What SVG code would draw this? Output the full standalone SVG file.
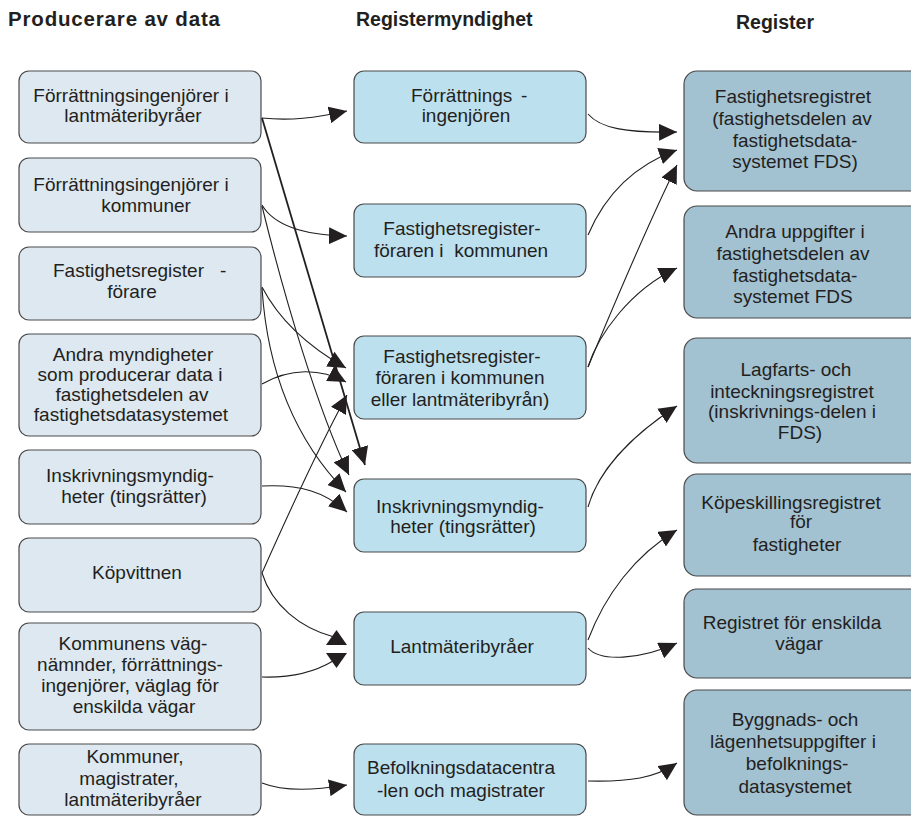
<svg xmlns="http://www.w3.org/2000/svg" width="911" height="816" viewBox="0 0 911 816">
<style>
.hdr{font-family:"Liberation Sans",Arial,sans-serif;font-weight:bold;font-size:19.5px;fill:#231f20}
.t{font-family:"Liberation Sans",Arial,sans-serif;font-size:19px;fill:#231f20;text-anchor:middle}
.ts{font-family:"Liberation Sans",Arial,sans-serif;font-size:19px;fill:#231f20}
.l{fill:#dde8f0;stroke:#4a4a4a;stroke-width:1.2}
.m{fill:#bde0ef;stroke:#4a4a4a;stroke-width:1.2}
.r{fill:#a2c1d1;stroke:#4a4a4a;stroke-width:1.2}
.c{fill:none;stroke:#231f20;stroke-width:1.1}
.ah{fill:#231f20;stroke:none}
</style>
<defs>
<marker id="arr" markerUnits="userSpaceOnUse" markerWidth="18" markerHeight="17" viewBox="0 0 18 17" refX="18" refY="8.5" orient="auto">
<path d="M0,0 L18,8.5 L0,17 z" fill="#231f20"/>
</marker>
</defs>
<rect width="911" height="816" fill="#ffffff"/>
<g id="headers">
<text class="hdr" x="8" y="26" style="font-size:20.5px" textLength="212" lengthAdjust="spacing">Producerare av data</text>
<text class="hdr" x="356" y="26">Registermyndighet</text>
<text class="hdr" x="736" y="29">Register</text>
</g>
<g id="L1"><rect class="l" x="19" y="71" width="242" height="72" rx="10"/>
<text class="t" x="131" y="102">Förrättningsingenjörer i</text>
<text class="t" x="133" y="122">lantmäteribyråer</text></g>
<g id="L2"><rect class="l" x="19" y="158" width="242" height="74" rx="10"/>
<text class="t" x="131" y="191">Förrättningsingenjörer i</text>
<text class="t" x="146" y="212">kommuner</text></g>
<g id="L3"><rect class="l" x="19" y="247" width="242" height="73" rx="10"/>
<text class="ts" x="53" y="277">Fastighetsregister</text>
<text class="ts" x="220" y="277">-</text>
<text class="t" x="132" y="298">förare</text></g>
<g id="L4"><rect class="l" x="19" y="334" width="242" height="102" rx="10"/>
<text class="t" x="133" y="361">Andra myndigheter</text>
<text class="t" x="130" y="381">som producerar data i</text>
<text class="t" x="132" y="401">fastighetsdelen av</text>
<text class="t" x="131" y="421">fastighetsdatasystemet</text></g>
<g id="L5"><rect class="l" x="19" y="450" width="242" height="74" rx="10"/>
<text class="t" x="130" y="482">Inskrivningsmyndig-</text>
<text class="t" x="134" y="503">heter (tingsrätter)</text></g>
<g id="L6"><rect class="l" x="19" y="538" width="242" height="74" rx="10"/>
<text class="t" x="137" y="579">Köpvittnen</text></g>
<g id="L7"><rect class="l" x="19" y="623" width="242" height="107" rx="10"/>
<text class="t" x="133" y="650">Kommunens väg-</text>
<text class="t" x="130" y="671">nämnder, förrättnings-</text>
<text class="t" x="130" y="692">ingenjörer, väglag för</text>
<text class="t" x="134" y="713">enskilda vägar</text></g>
<g id="L8"><rect class="l" x="19" y="744" width="242" height="71" rx="10"/>
<text class="t" x="135" y="763">Kommuner,</text>
<text class="t" x="129" y="785">magistrater,</text>
<text class="t" x="133" y="806">lantmäteribyråer</text></g>

<g id="M1"><rect class="m" x="354" y="71" width="232" height="72" rx="10"/>
<text class="ts" x="411" y="102">Förrättnings</text>
<text class="ts" x="521" y="102">-</text>
<text class="t" x="466" y="122">ingenjören</text></g>
<g id="M2"><rect class="m" x="354" y="204" width="232" height="73" rx="10"/>
<text class="t" x="462" y="235">Fastighetsregister-</text>
<text class="t" x="461" y="257" xml:space="preserve">föraren i  kommunen</text></g>
<g id="M3"><rect class="m" x="354" y="336" width="232" height="83" rx="10"/>
<text class="t" x="462" y="363">Fastighetsregister-</text>
<text class="t" x="460" y="384">föraren i kommunen</text>
<text class="t" x="460" y="406">eller lantmäteribyrån)</text></g>
<g id="M4"><rect class="m" x="354" y="479" width="232" height="73" rx="10"/>
<text class="t" x="460" y="513">Inskrivningsmyndig-</text>
<text class="t" x="463" y="533">heter (tingsrätter)</text></g>
<g id="M5"><rect class="m" x="354" y="612" width="232" height="73" rx="10"/>
<text class="t" x="462" y="653">Lantmäteribyråer</text></g>
<g id="M6"><rect class="m" x="354" y="744" width="232" height="71" rx="10"/>
<text class="t" x="461" y="774">Befolkningsdatacentra</text>
<text class="t" x="461" y="797">-len och magistrater</text></g>

<g id="R1"><rect class="r" x="684" y="71" width="240" height="120" rx="13"/>
<text class="t" x="793" y="103">Fastighetsregistret</text>
<text class="t" x="792" y="125">(fastighetsdelen av</text>
<text class="t" x="795" y="147">fastighetsdata-</text>
<text class="t" x="795" y="168">systemet FDS)</text></g>
<g id="R2"><rect class="r" x="684" y="206" width="240" height="112" rx="13"/>
<text class="t" x="795" y="238">Andra uppgifter i</text>
<text class="t" x="793" y="260">fastighetsdelen av</text>
<text class="t" x="795" y="282">fastighetsdata-</text>
<text class="t" x="793" y="303">systemet FDS</text></g>
<g id="R3"><rect class="r" x="684" y="338" width="240" height="125" rx="13"/>
<text class="t" x="796" y="376">Lagfarts- och</text>
<text class="t" x="792" y="398">inteckningsregistret</text>
<text class="t" x="792" y="418">(inskrivnings-delen i</text>
<text class="t" x="800" y="439">FDS)</text></g>
<g id="R4"><rect class="r" x="684" y="474" width="240" height="102" rx="13"/>
<text class="t" x="791" y="509">Köpeskillingsregistret</text>
<text class="t" x="801" y="528">för</text>
<text class="t" x="797" y="551">fastigheter</text></g>
<g id="R5"><rect class="r" x="684" y="589" width="240" height="89" rx="13"/>
<text class="t" x="792" y="629">Registret för enskilda</text>
<text class="t" x="799" y="650">vägar</text></g>
<g id="R6"><rect class="r" x="684" y="690" width="240" height="125" rx="13"/>
<text class="t" x="795" y="726">Byggnads- och</text>
<text class="t" x="793" y="748">lägenhetsuppgifter i</text>
<text class="t" x="797" y="770">befolknings-</text>
<text class="t" x="795" y="793">datasystemet</text></g>

<g id="connectors">
<path class="c" marker-end="url(#arr)" d="M262,118 C290,121 315,118 347,111"/>
<path class="c" marker-end="url(#arr)" d="M262,205 C272,222 295,235 347,236"/>
<path class="c" marker-end="url(#arr)" style="stroke-width:1.8" d="M262,118 L365,465"/>
<path class="c" marker-end="url(#arr)" d="M262,206 C285,300 318,410 349,475"/>
<path class="c" marker-end="url(#arr)" d="M262,287 C275,312 300,342 346,368"/>
<path class="c" marker-end="url(#arr)" d="M262,288 C268,380 300,445 346,492"/>
<path class="c" marker-end="url(#arr)" d="M262,384 C290,368 320,368 346,382"/>
<path class="c" marker-end="url(#arr)" d="M262,573 C290,510 320,445 347,395"/>
<path class="c" marker-end="url(#arr)" d="M262,486 C300,484 325,492 347,512"/>
<path class="c" d="M262,573 C272,605 300,628 334,637"/>
<path class="c" d="M262,677 C295,678 318,670 333,661"/>
<polygon class="ah" points="326,645 347,645 336.5,630"/>
<polygon class="ah" points="326,653 347,653 336.5,668"/>
<path class="c" marker-end="url(#arr)" d="M262,783 C285,792 315,790 347,785"/>
<path class="c" marker-end="url(#arr)" d="M588,114 C600,128 625,133 677,132"/>
<path class="c" marker-end="url(#arr)" d="M588,235 C605,195 635,165 677,150"/>
<path class="c" marker-end="url(#arr)" d="M588,367 C620,290 650,220 677,165"/>
<path class="c" marker-end="url(#arr)" d="M588,367 C598,335 630,290 677,268"/>
<path class="c" marker-end="url(#arr)" d="M588,507 C600,465 640,430 677,406"/>
<path class="c" marker-end="url(#arr)" d="M588,640 C605,595 635,555 677,530"/>
<path class="c" marker-end="url(#arr)" d="M588,648 C600,662 640,660 677,643"/>
<path class="c" marker-end="url(#arr)" d="M588,781 C630,782 655,778 677,763"/>
</g>
</svg>
